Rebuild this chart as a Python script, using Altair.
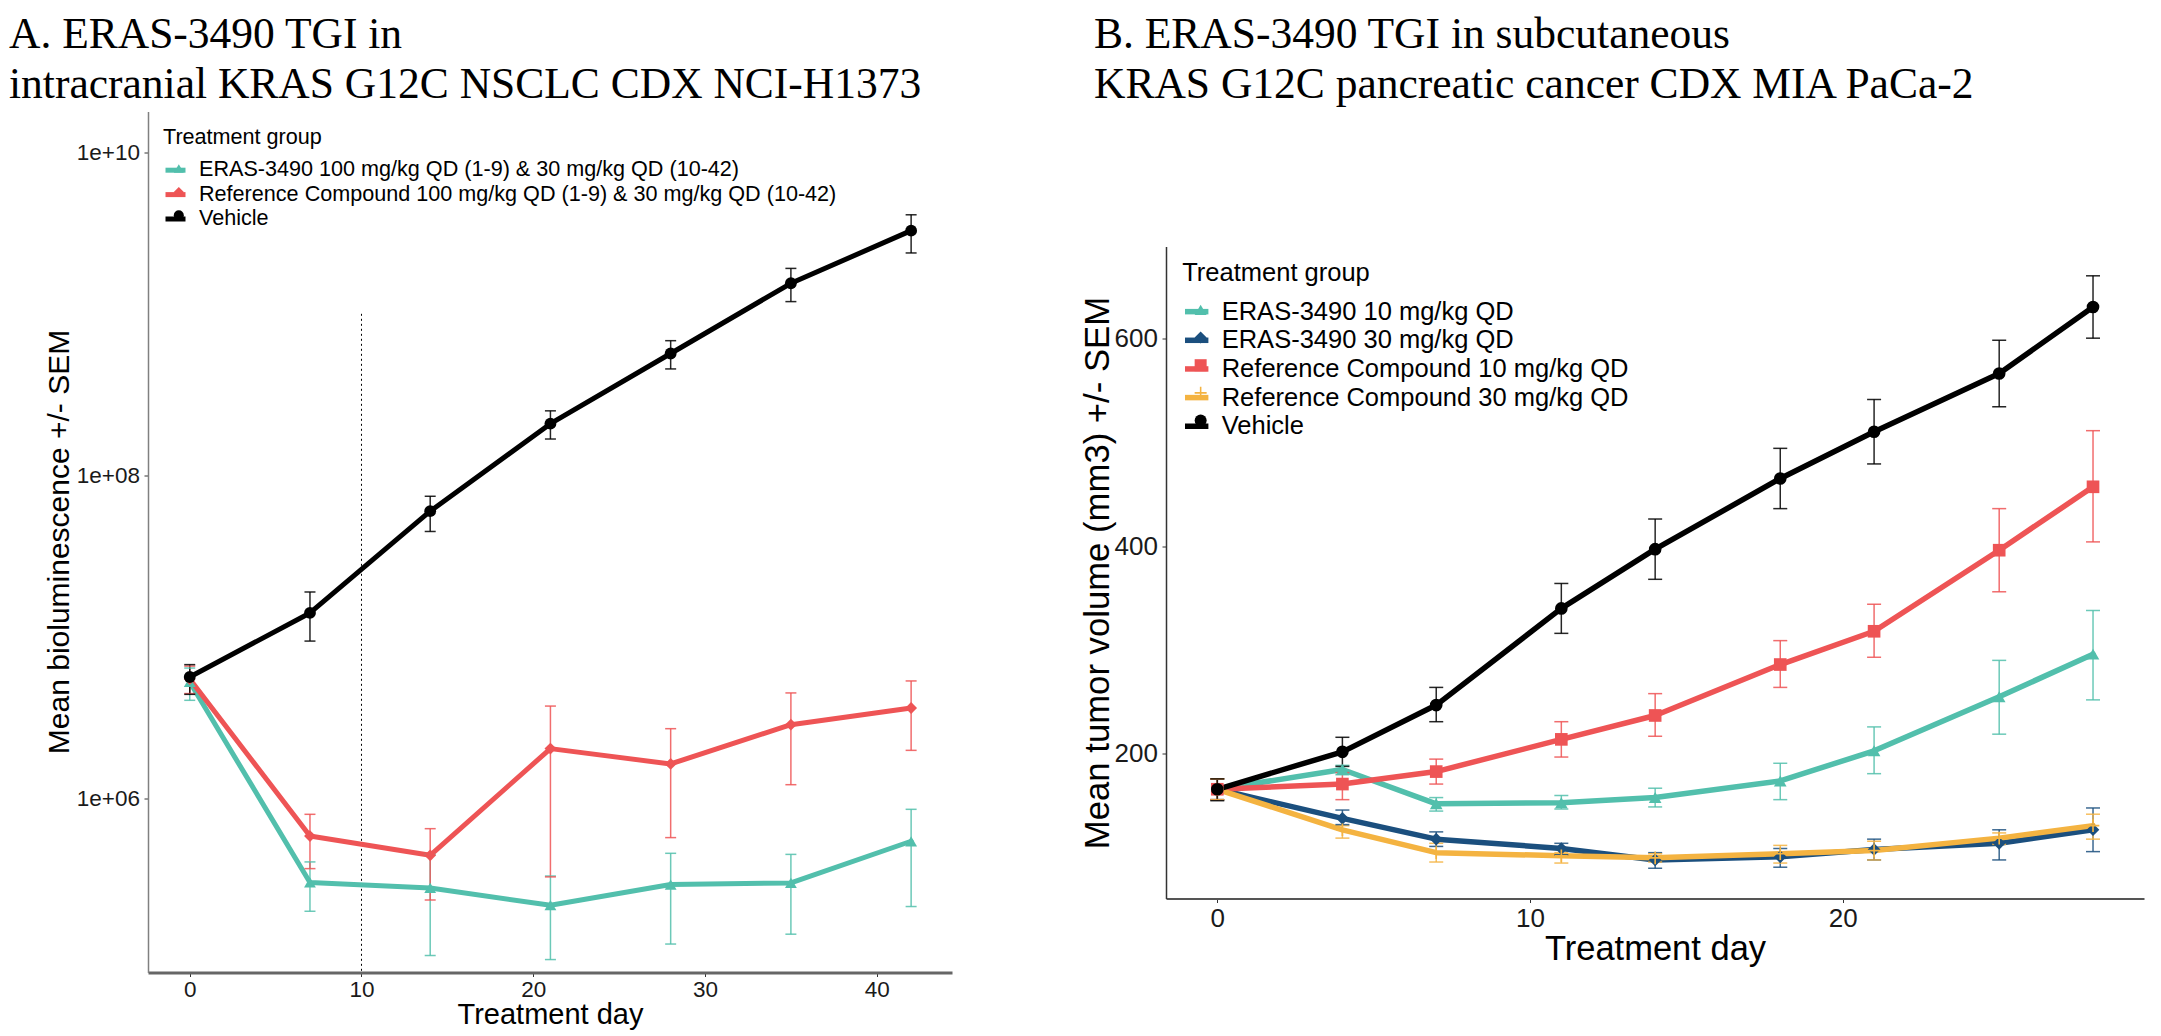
import altair as alt
import pandas as pd

SANS = "Liberation Sans, Arial, sans-serif"
SERIF = "Liberation Serif, Times New Roman, serif"

# ---------------- Panel A data ----------------
A_title = ["A. ERAS-3490 TGI in", "intracranial KRAS G12C NSCLC CDX NCI-H1373"]
A_days = [0, 7, 14, 21, 28, 35, 42]
A_groups = [
    "ERAS-3490 100 mg/kg QD (1-9) & 30 mg/kg QD (10-42)",
    "Reference Compound 100 mg/kg QD (1-9) & 30 mg/kg QD (10-42)",
    "Vehicle",
]
A_colors = ["#52BFAC", "#EE5455", "#000000"]
A_shapes = ["triangle-up", "diamond", "circle"]

A_eras_mean = [5.27e6, 3.03e5, 2.80e5, 2.19e5, 2.94e5, 3.01e5, 5.45e5]
A_eras_hi = [6.43e6, 4.06e5, 4.51e5, 3.32e5, 4.59e5, 4.52e5, 8.59e5]
A_eras_lo = [4.06e6, 2.01e5, 1.07e5, 1.01e5, 1.26e5, 1.45e5, 2.15e5]
A_ref_mean = [5.50e6, 5.87e5, 4.46e5, 2.04e6, 1.64e6, 2.87e6, 3.64e6]
A_ref_hi = [6.61e6, 8.00e5, 6.52e5, 3.74e6, 2.71e6, 4.51e6, 5.35e6]
A_ref_lo = [4.47e6, 3.69e5, 2.36e5, 3.28e5, 5.74e5, 1.22e6, 1.99e6]
A_veh_mean = [5.66e6, 1.41e7, 6.01e7, 2.09e8, 5.68e8, 1.545e9, 3.27e9]
A_veh_hi = [6.75e6, 1.90e7, 7.43e7, 2.51e8, 6.82e8, 1.91e9, 4.10e9]
A_veh_lo = [4.42e6, 9.44e6, 4.50e7, 1.68e8, 4.56e8, 1.19e9, 2.38e9]
A_switch_day = [10]
A_switch_top = [1e9]
A_x_ticks = [0, 10, 20, 30, 40]
A_y_ticks = [1e6, 1e8, 1e10]

# ---------------- Panel B data ----------------
B_title = ["B. ERAS-3490 TGI in subcutaneous", "KRAS G12C pancreatic cancer CDX MIA PaCa-2"]
B_days = [0, 4, 7, 11, 14, 18, 21, 25, 28]
B_groups = [
    "ERAS-3490 10 mg/kg QD",
    "ERAS-3490 30 mg/kg QD",
    "Reference Compound 10 mg/kg QD",
    "Reference Compound 30 mg/kg QD",
    "Vehicle",
]
B_colors = ["#52BFAC", "#1B4F7E", "#EE5455", "#F4B341", "#000000"]
PLUS = "M-1,-0.13L1,-0.13L1,0.13L-1,0.13Z M-0.13,-1L0.13,-1L0.13,1L-0.13,1Z"
B_shapes = ["triangle-up", "diamond", "square", PLUS, "circle"]

B_e10_mean = [166, 185, 152, 153, 158, 174, 203, 255, 296]
B_e10_hi = [176, 189, 158, 160, 167, 191, 226, 290, 338]
B_e10_lo = [156, 180, 145, 147, 149, 156, 181, 219, 252]
B_e30_mean = [166, 138, 118, 109, 98, 101, 108, 114, 127]
B_e30_hi = [176, 146, 125, 114, 105, 109, 118, 127, 148]
B_e30_lo = [156, 132, 111, 103, 90, 91, 98, 98, 106]
B_r10_mean = [166, 171, 183, 214, 237, 286, 318, 396, 457]
B_r10_hi = [176, 182, 195, 231, 258, 309, 344, 436, 511]
B_r10_lo = [156, 156, 171, 197, 217, 264, 293, 356, 404]
B_r30_mean = [166, 127, 105, 102, 100, 104, 107, 119, 131]
B_r30_hi = [176, 131, 114, 105, 104, 112, 116, 124, 142]
B_r30_lo = [156, 119, 96, 95, 96, 95, 98, 113, 118]
B_veh_mean = [166, 202, 247, 340, 397, 465, 510, 566, 630]
B_veh_hi = [176, 216, 264, 364, 426, 494, 541, 598, 660]
B_veh_lo = [155, 188, 231, 316, 368, 436, 479, 534, 600]
B_x_ticks = [0, 10, 20]
B_y_ticks = [200, 400, 600]


def long_df(days, groups, series):
    rows = []
    for g, (m, lo, hi) in zip(groups, series):
        for d, mv, lv, hv in zip(days, m, lo, hi):
            rows.append({"day": d, "group": g, "mean": mv, "lo": lv, "hi": hv})
    return pd.DataFrame(rows)


dfA = long_df(A_days, A_groups, [
    (A_eras_mean, A_eras_lo, A_eras_hi),
    (A_ref_mean, A_ref_lo, A_ref_hi),
    (A_veh_mean, A_veh_lo, A_veh_hi),
])
dfB = long_df(B_days, B_groups, [
    (B_e10_mean, B_e10_lo, B_e10_hi),
    (B_e30_mean, B_e30_lo, B_e30_hi),
    (B_r10_mean, B_r10_lo, B_r10_hi),
    (B_r30_mean, B_r30_lo, B_r30_hi),
    (B_veh_mean, B_veh_lo, B_veh_hi),
])


def panel(df, groups, colors, shapes, cfg):
    xscale = alt.Scale(domain=cfg["xdom"], nice=False, zero=False)
    if cfg["ylog"]:
        yscale = alt.Scale(type="log", domain=cfg["ydom"], nice=False)
    else:
        yscale = alt.Scale(domain=cfg["ydom"], nice=False, zero=False)

    xaxis = alt.Axis(
        values=cfg["xticks"], title="Treatment day", grid=False,
        labelFont=SANS, labelFontSize=cfg["tickfs"], labelColor="#1a1a1a",
        labelPadding=cfg["xlabpad"], tickSize=4, tickColor="#333333", tickWidth=1,
        domainColor=cfg["xdomcol"], domainWidth=cfg["xdomw"],
        titleFont=SANS, titleFontSize=cfg["xtitlefs"], titleFontWeight="normal",
        titleColor="black", titleBaseline="alphabetic", titleY=cfg["xtitleY"],
    )
    yaxis_kw = dict(
        values=cfg["yticks"], title=cfg["ytitle"], grid=False,
        labelFont=SANS, labelFontSize=cfg["tickfs"], labelColor="#1a1a1a",
        labelPadding=4.5, tickSize=4, tickColor="#333333", tickWidth=1,
        domainColor=cfg["ydomcol"], domainWidth=1.5,
        titleFont=SANS, titleFontSize=cfg["ytitlefs"], titleFontWeight="normal",
        titleColor="black", titleBaseline="alphabetic", titleAngle=270,
        titleAlign="center", titleX=cfg["ytitleX"], titleY=cfg["ytitleY"],
    )
    if cfg["ylog"]:
        yaxis_kw["labelExpr"] = "'1e+' + format(round(log(datum.value)/LN10), '02d')"
    yaxis = alt.Axis(**yaxis_kw)

    X = alt.X("day:Q", scale=xscale, axis=xaxis)
    ytitle = cfg["ytitle"]

    lf = cfg["legfs"]
    common_leg = dict(
        orient="none", legendY=cfg["legY"],
        titleFont=SANS, titleFontSize=lf, titleFontWeight="normal", titleColor="black",
        titlePadding=cfg["legtp"], titleAnchor="start", titleLimit=2000,
        labelFont=SANS, labelFontSize=lf, labelColor="black", labelLimit=2000,
        rowPadding=cfg["legrp"], padding=0, direction="vertical",
    )
    # legend with line keys and the group names
    stroke_leg = alt.Legend(
        legendX=cfg["legX"], title="Treatment group", symbolType="stroke",
        symbolSize=cfg["linesym"] ** 2, symbolStrokeWidth=cfg["lw"],
        labelOffset=cfg["labOff"], **common_leg,
    )
    # marker keys drawn on top of the line keys (blank text keeps rows aligned)
    shape_leg = alt.Legend(
        legendX=cfg["legX"] + (cfg["linesym"] - cfg["ptsym"]) / 2, title=" ",
        labelExpr="' '", symbolSize=cfg["ptsym"] ** 2, symbolStrokeWidth=0, symbolOpacity=1,
        titleOpacity=0, labelOpacity=0, **common_leg,
    )

    base = alt.Chart(df)
    layers = []
    if cfg.get("vline") is not None:
        vdf = pd.DataFrame({"day": A_switch_day, "top": A_switch_top,
                            "bottom": [cfg["ydom"][0]] * len(A_switch_day)})
        layers.append(
            alt.Chart(vdf).mark_rule(color="black", strokeWidth=1, strokeDash=[2, 3]).encode(
                x=X, y=alt.Y("top:Q", scale=yscale, axis=yaxis, title=ytitle), y2="bottom:Q")
        )
    lines = base.mark_line(strokeWidth=cfg["lw"], strokeCap="round", strokeJoin="round").encode(
        x=X, y=alt.Y("mean:Q", scale=yscale, axis=yaxis, title=ytitle),
        stroke=alt.Stroke("group:N", scale=alt.Scale(domain=groups, range=colors), legend=stroke_leg),
    )
    ecol = alt.Color("group:N", scale=alt.Scale(domain=groups, range=colors), legend=None)
    erule = base.mark_rule(strokeWidth=1.5, opacity=0.85).encode(
        x=X, y=alt.Y("lo:Q", scale=yscale, axis=yaxis, title=ytitle), y2="hi:Q", color=ecol)
    cap_hi = base.mark_tick(orient="horizontal", size=cfg["cap"], thickness=1.5, opacity=0.85).encode(
        x=X, y=alt.Y("hi:Q", scale=yscale, axis=yaxis, title=ytitle), color=ecol)
    cap_lo = base.mark_tick(orient="horizontal", size=cfg["cap"], thickness=1.5, opacity=0.85).encode(
        x=X, y=alt.Y("lo:Q", scale=yscale, axis=yaxis, title=ytitle), color=ecol)
    pts = base.mark_point(filled=True, size=cfg["ptsize"], opacity=1, strokeWidth=0).encode(
        x=X, y=alt.Y("mean:Q", scale=yscale, axis=yaxis, title=ytitle),
        fill=alt.Fill("group:N", scale=alt.Scale(range=colors), legend=shape_leg),
        shape=alt.Shape("group:N", scale=alt.Scale(range=shapes), legend=shape_leg),
    )
    # panel heading (two serif lines) placed above the plot area
    head = alt.Chart(pd.DataFrame({"k": [0]})).mark_text(
        font=SERIF, fontSize=43.5, fontWeight="normal", color="black",
        align="left", baseline="alphabetic", lineHeight=50,
    ).encode(x=alt.value(cfg["tx"]), y=alt.value(cfg["ty"]), text=alt.value(cfg["title"]))
    layers += [lines, erule, cap_hi, cap_lo, pts, head]
    return alt.layer(*layers).properties(width=cfg["w"], height=cfg["h"]).resolve_scale(color="shared")


cfgA = dict(
    xdom=[-2.43, 44.38], ylog=True, ydom=[8.4e4, 1.786e10], xticks=A_x_ticks, yticks=A_y_ticks,
    tickfs=22.5, xlabpad=2, xdomcol="#666666", xdomw=3, xtitlefs=29, xtitleY=51,
    ytitle="Mean bioluminescence +/- SEM", ytitlefs=30, ytitleX=-80, ytitleY=430, ydomcol="#808080",
    legfs=21.6, legX=15, legY=15.4, legtp=9.2, legrp=0.4, linesym=20, ptsym=10, labOff=11,
    lw=5, cap=11, ptsize=140, w=804, h=861, vline=True,
    title=A_title, tx=-139, ty=-63.5,
)
cfgB = dict(
    xdom=[-1.64, 29.63], ylog=False, ydom=[60.9, 688.2], xticks=B_x_ticks, yticks=B_y_ticks,
    tickfs=26, xlabpad=3, xdomcol="#555555", xdomw=2.2, xtitlefs=34.5, xtitleY=61,
    ytitle="Mean tumor volume (mm3) +/- SEM", ytitlefs=34.7, ytitleX=-58, ytitleY=326, ydomcol="#333333",
    legfs=25.5, legX=16.2, legY=14.8, legtp=10.35, legrp=0.65, linesym=23.4, ptsym=12, labOff=10.5,
    lw=5.5, cap=14, ptsize=160, w=978, h=652, vline=None,
    title=B_title, tx=-72, ty=-198.5,
)

chartA = panel(dfA, A_groups, A_colors, A_shapes, cfgA)
chartB = panel(dfB, B_groups, B_colors, B_shapes, cfgB)

# empty block that lowers panel B's plot area relative to panel A's
spacerB = alt.Chart(pd.DataFrame({"k": [0]})).mark_point(opacity=0).encode(
    x=alt.value(0), y=alt.value(0)
).properties(width=978, height=135)

colB = alt.vconcat(spacerB, chartB, spacing=0, bounds="flush").resolve_scale(
    color="independent", fill="independent", stroke="independent", shape="independent",
).resolve_legend(
    color="independent", fill="independent", stroke="independent", shape="independent",
)

chart = alt.hconcat(chartA, colB, spacing=126).resolve_scale(
    x="independent", y="independent", color="independent", fill="independent",
    stroke="independent", shape="independent",
).resolve_legend(
    color="independent", fill="independent", stroke="independent", shape="independent",
).properties(
    padding={"left": 0, "top": 4.5, "right": 0, "bottom": 0},
).configure_view(stroke="transparent")

chart.save("out.html", embed_options={"renderer": "svg", "actions": False})
